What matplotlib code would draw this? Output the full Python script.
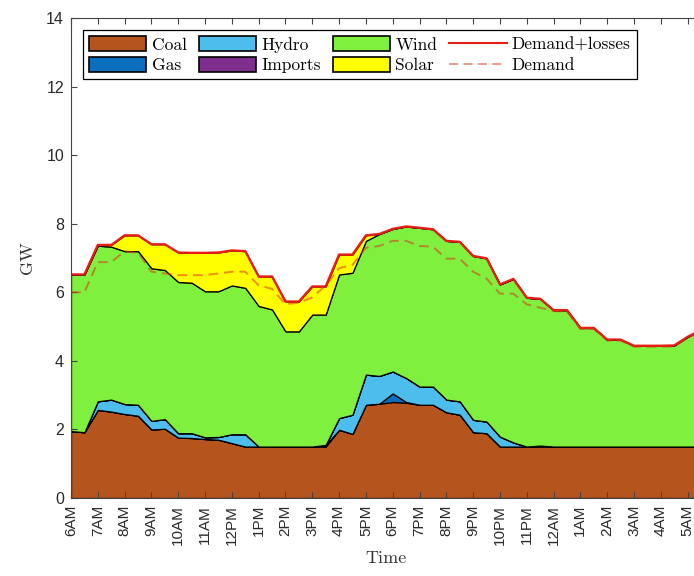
import numpy as np
import matplotlib.pyplot as plt
from matplotlib.patches import Patch
from matplotlib.lines import Line2D

# half-hourly values, 6:00 AM to 5:30 AM next day (GW)
coal = [1.95, 1.92, 2.57, 2.52, 2.45, 2.40, 2.00, 2.02, 1.76, 1.75,
        1.72, 1.70, 1.60, 1.50, 1.50, 1.50, 1.50, 1.50, 1.50, 1.50,
        1.99, 1.87, 2.72, 2.75, 2.80, 2.78, 2.72, 2.72, 2.50, 2.43,
        1.92, 1.89, 1.50, 1.50, 1.50, 1.50, 1.50, 1.50, 1.50, 1.50,
        1.50, 1.50, 1.50, 1.50, 1.50, 1.50, 1.50, 1.50]
gas = [0, 0, 0, 0, 0, 0, 0, 0, 0, 0,
       0, 0, 0, 0, 0, 0, 0, 0, 0, 0.05,
       0, 0, 0, 0, 0.25, 0.02, 0, 0, 0, 0,
       0, 0, 0, 0, 0, 0, 0, 0, 0, 0,
       0, 0, 0, 0, 0, 0, 0, 0]
hydro = [0, 0, 0.25, 0.35, 0.29, 0.32, 0.25, 0.28, 0.13, 0.14,
         0.05, 0.08, 0.26, 0.36, 0, 0, 0, 0, 0, 0,
         0.34, 0.56, 0.88, 0.81, 0.64, 0.70, 0.53, 0.53, 0.37, 0.39,
         0.36, 0.34, 0.29, 0.12, 0, 0.03, 0, 0, 0, 0,
         0, 0, 0, 0, 0, 0, 0, 0]
imports = [0] * 48
wind = [4.57, 4.60, 4.54, 4.46, 4.46, 4.48, 4.45, 4.35, 4.41, 4.39,
        4.26, 4.25, 4.34, 4.27, 4.10, 4.00, 3.36, 3.36, 3.85, 3.80,
        4.19, 4.14, 3.90, 4.14, 4.16, 4.42, 4.63, 4.59, 4.63, 4.65,
        4.78, 4.76, 4.44, 4.77, 4.34, 4.28, 3.98, 3.98, 3.46, 3.46,
        3.12, 3.12, 2.94, 2.94, 2.94, 2.95, 3.20, 3.40]
solar = [0, 0, 0.02, 0.05, 0.46, 0.46, 0.70, 0.75, 0.86, 0.87,
         1.12, 1.13, 1.02, 1.07, 0.86, 0.96, 0.87, 0.87, 0.82, 0.82,
         0.58, 0.53, 0.16, 0, 0, 0, 0, 0, 0, 0,
         0, 0, 0, 0, 0, 0, 0, 0, 0, 0,
         0, 0, 0, 0, 0, 0, 0, 0]
demand_losses = [6.52, 6.52, 7.38, 7.38, 7.66, 7.66, 7.40, 7.40, 7.16, 7.15,
                 7.15, 7.16, 7.22, 7.20, 6.46, 6.46, 5.73, 5.73, 6.17, 6.17,
                 7.10, 7.10, 7.66, 7.70, 7.85, 7.92, 7.88, 7.84, 7.50, 7.47,
                 7.06, 6.99, 6.23, 6.39, 5.84, 5.81, 5.48, 5.48, 4.96, 4.96,
                 4.62, 4.62, 4.44, 4.44, 4.44, 4.45, 4.70, 4.90]
demand = [6.00, 6.00, 6.88, 6.88, 7.20, 7.15, 6.60, 6.55, 6.50, 6.50,
          6.50, 6.55, 6.60, 6.60, 6.20, 6.10, 5.65, 5.70, 5.85, 6.20,
          6.70, 6.80, 7.30, 7.35, 7.50, 7.50, 7.35, 7.33, 6.98, 6.98,
          6.60, 6.40, 5.96, 5.96, 5.65, 5.55, 5.45, 5.44, 4.93, 4.93,
          4.59, 4.59, 4.41, 4.41, 4.41, 4.42, 4.67, 4.87]
hour_labels = ['6AM', '7AM', '8AM', '9AM', '10AM', '11AM', '12PM', '1PM',
               '2PM', '3PM', '4PM', '5PM', '6PM', '7PM', '8PM', '9PM',
               '10PM', '11PM', '12AM', '1AM', '2AM', '3AM', '4AM', '5AM']

t = np.arange(len(coal)) * 0.5

names = ['Coal', 'Gas', 'Hydro', 'Imports', 'Wind', 'Solar']
colors = ['#b5541c', '#0b6fbe', '#4dbdec', '#7e2f8e', '#7ff03e', '#ffff00']

fig = plt.figure(figsize=(6.94, 5.76), dpi=100)
ax = fig.add_axes([71 / 694, 78 / 576, 630 / 694, 480 / 576])

ax.stackplot(t, coal, gas, hydro, imports, wind, solar, colors=colors,
             edgecolor='black', linewidth=0.9)
ax.plot(t, demand_losses, color='#e81e14', linewidth=1.7)
ax.plot(t, demand, color='#e0301c', alpha=0.55, linewidth=1.4, dashes=(5, 3))

ax.set_xlim(0, t[-1])
ax.set_ylim(0, 14)
ax.set_xticks(np.arange(24))
ax.set_xticklabels(hour_labels, rotation=90, family='Liberation Sans',
                   fontsize=11, color='#2a2a2a')
ax.set_yticks(np.arange(0, 15, 2))
ax.set_yticklabels([str(v) for v in range(0, 15, 2)], family='Liberation Sans',
                   fontsize=11.5, color='#2a2a2a')
ax.tick_params(direction='in', top=True, right=True, length=4, width=0.8,
               color='#444444', pad=5)
for s in ax.spines.values():
    s.set_color('#444444')
    s.set_linewidth(0.8)

ax.set_ylabel('GW', family='cmr10', fontsize=13, color='#333333', labelpad=8)
ax.set_xlabel('Time', family='cmr10', fontsize=13, color='#333333', labelpad=4)

handles = [Patch(facecolor=c, edgecolor='black', linewidth=1.2) for c in colors]
handles += [Line2D([], [], color='#e81e14', linewidth=1.5),
            Line2D([], [], color='#e0301c', alpha=0.55, linewidth=1.3, dashes=(5, 3))]
labels = names + ['Demand+losses', 'Demand']
leg = ax.legend(handles, labels, ncol=4, loc='upper left',
                bbox_to_anchor=(0.019, 0.975), borderaxespad=0,
                prop={'family': 'cmr10', 'size': 12.5},
                handlelength=3.3, handleheight=0.95, handletextpad=0.3,
                columnspacing=0.7, labelspacing=0.25, borderpad=0.35,
                fancybox=False, framealpha=1, edgecolor='black')
leg.get_frame().set_linewidth(0.9)

fig.savefig('out.png', dpi=100)
